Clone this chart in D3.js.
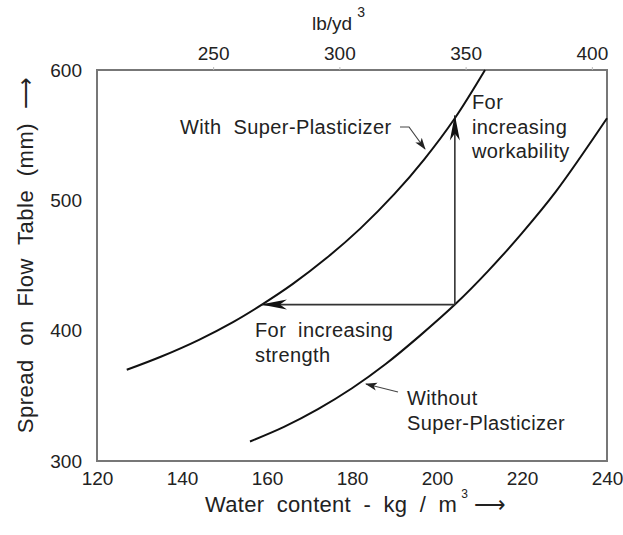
<!DOCTYPE html>
<html>
<head>
<meta charset="utf-8">
<script src="https://cdn.jsdelivr.net/npm/d3@7"></script>
<style>
  body { margin: 0; background: #fff; }
  text { font-family: "Liberation Sans", Arial, sans-serif; fill: #222; }
</style>
</head>
<body>
<div class="chart"></div>
<script>
// chart data
var waterTicks = [120, 140, 160, 180, 200, 220, 240];
var spreadTicks = [300, 400, 500, 600];
var lbTicks = [250, 300, 350, 400];

var withSPWater = [127, 135, 144, 152, 158.8, 166, 174, 182, 190, 197, 204.2, 211.3];
var withSPSpread = [370, 380, 393, 406.6, 420, 435.7, 455.7, 478.5, 504.9, 531.5, 563, 600];

var withoutSPWater = [156, 164, 172, 180, 188, 196, 204.2, 212, 220, 228, 240];
var withoutSPSpread = [315, 326.2, 339.8, 355.8, 374.6, 396.2, 420, 445.7, 474.9, 506.9, 563];

// the two arrows
var startPoint = [204.2, 420];
var strengthEnd = [158.8, 420];
var workabilityEnd = [204.2, 565];

var svgWidth = 623;
var svgHeight = 535;
var margin = { top: 70, right: 16, bottom: 74, left: 97 };
var width = svgWidth - margin.left - margin.right;
var height = svgHeight - margin.top - margin.bottom;

var svg = d3.select(".chart").append("svg")
  .attr("width", svgWidth)
  .attr("height", svgHeight);

var defs = svg.append("defs");
defs.append("marker")
  .attr("id", "bigHead")
  .attr("viewBox", "0 -6 26 12")
  .attr("refX", 25).attr("refY", 0)
  .attr("markerWidth", 26).attr("markerHeight", 12)
  .attr("markerUnits", "userSpaceOnUse")
  .attr("orient", "auto")
  .append("path")
  .attr("d", "M0,-5 L26,0 L0,5 L7,0 Z")
  .attr("fill", "#111");
defs.append("marker")
  .attr("id", "smallHead")
  .attr("viewBox", "0 -5 12 10")
  .attr("refX", 11).attr("refY", 0)
  .attr("markerWidth", 12).attr("markerHeight", 10)
  .attr("markerUnits", "userSpaceOnUse")
  .attr("orient", "auto")
  .append("path")
  .attr("d", "M0,-4 L12,0 L0,4 L3,0 Z")
  .attr("fill", "#222");

var chartGroup = svg.append("g")
  .attr("transform", `translate(${margin.left}, ${margin.top})`);

var xScale = d3.scaleLinear().domain([120, 240]).range([0, width]);
var yScale = d3.scaleLinear().domain([300, 600]).range([height, 0]);
// lb/yd3 axis, as placed in the picture (about kg/m3 * 1.686)
var lbScale = d3.scaleLinear().domain([204, 406]).range([0, width]);

// plot frame
chartGroup.append("rect")
  .attr("width", width).attr("height", height)
  .attr("fill", "none")
  .attr("stroke", "#777")
  .attr("stroke-width", 2);

// bottom axis labels
chartGroup.append("g")
  .attr("transform", `translate(0, ${height})`)
  .call(d3.axisBottom(xScale).tickValues(waterTicks).tickSize(0).tickPadding(11))
  .call(g => g.select(".domain").remove())
  .selectAll("text")
  .style("font-size", "19px").attr("fill", "#333");

// left axis labels
chartGroup.append("g")
  .call(d3.axisLeft(yScale).tickValues(spreadTicks).tickSize(0).tickPadding(15))
  .call(g => g.select(".domain").remove())
  .selectAll("text")
  .style("font-size", "19px").attr("fill", "#333");

// top axis in lb/yd3
chartGroup.append("g")
  .call(d3.axisTop(lbScale).tickValues(lbTicks).tickSize(3).tickPadding(7))
  .call(g => g.select(".domain").remove())
  .call(g => g.selectAll("line").attr("stroke", "#bbb"))
  .selectAll("text")
  .style("font-size", "19px").attr("fill", "#333");

var lbLabel = svg.append("text")
  .attr("x", 312).attr("y", 30)
  .style("font-size", "19px").attr("fill", "#333");
lbLabel.append("tspan").text("lb/yd");
lbLabel.append("tspan").attr("dx", 5).attr("dy", -13).style("font-size", "14px").text("3");

// curves
var line = d3.line()
  .x(d => xScale(d[0]))
  .y(d => yScale(d[1]))
  .curve(d3.curveCatmullRom);

chartGroup.append("path")
  .datum(d3.zip(withSPWater, withSPSpread))
  .attr("d", line)
  .attr("fill", "none").attr("stroke", "#111").attr("stroke-width", 2);

chartGroup.append("path")
  .datum(d3.zip(withoutSPWater, withoutSPSpread))
  .attr("d", line)
  .attr("fill", "none").attr("stroke", "#111").attr("stroke-width", 2);

// the two arrows
chartGroup.append("line")
  .attr("x1", xScale(startPoint[0])).attr("y1", yScale(startPoint[1]))
  .attr("x2", xScale(strengthEnd[0])).attr("y2", yScale(strengthEnd[1]))
  .attr("stroke", "#333").attr("stroke-width", 1.6)
  .attr("marker-end", "url(#bigHead)");

chartGroup.append("line")
  .attr("x1", xScale(startPoint[0])).attr("y1", yScale(startPoint[1]))
  .attr("x2", xScale(workabilityEnd[0])).attr("y2", yScale(workabilityEnd[1]))
  .attr("stroke", "#333").attr("stroke-width", 1.6)
  .attr("marker-end", "url(#bigHead)");

// leader lines to the curves
svg.append("path")
  .attr("d", "M400,127 L409,127 L425,149")
  .attr("fill", "none").attr("stroke", "#444").attr("stroke-width", 1.2)
  .attr("marker-end", "url(#smallHead)");
svg.append("path")
  .attr("d", "M398,392 L366,384")
  .attr("fill", "none").attr("stroke", "#444").attr("stroke-width", 1.2)
  .attr("marker-end", "url(#smallHead)");

// annotation texts
function block(x, y, lines) {
  var t = svg.append("text").attr("x", x).attr("y", y)
    .style("font-size", "20px").style("letter-spacing", "0.4px")
    .style("white-space", "pre");
  lines.forEach((s, i) => t.append("tspan").attr("x", x).attr("dy", i ? 24.5 : 0).text(s));
}
block(180, 134, ["With  Super-Plasticizer"]);
block(472, 109, ["For", "increasing", "workability"]);
block(255, 337, ["For  increasing", "strength"]);
block(407, 405, ["Without", "Super-Plasticizer"]);

// axis titles
var yTitle = svg.append("text")
  .attr("transform", "translate(33, 255) rotate(-90)")
  .attr("text-anchor", "middle")
  .style("font-size", "22px").style("word-spacing", "7px").style("letter-spacing", "0.5px");
yTitle.text("Spread on Flow Table (mm) \u27F6");

var xTitle = svg.append("text")
  .attr("x", 205).attr("y", 512)
  .style("font-size", "22px").style("word-spacing", "6px").style("letter-spacing", "0.3px");
xTitle.append("tspan").text("Water content - kg / m");
xTitle.append("tspan").attr("dx", 4).attr("dy", -14).style("font-size", "12px").text("3");
xTitle.append("tspan").attr("dx", 6).attr("dy", 14).text("\u27F6");
</script>
</body>
</html>
